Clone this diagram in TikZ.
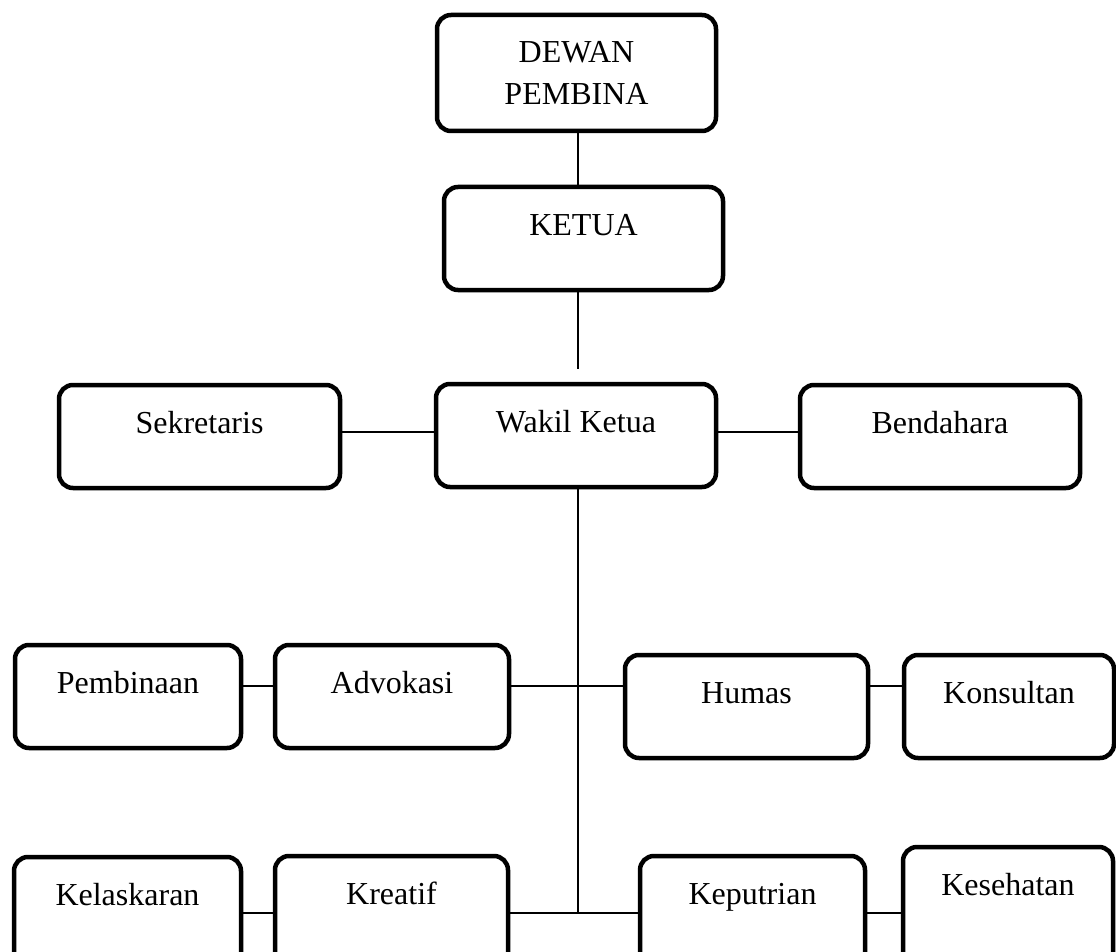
\documentclass[tikz,border=0pt]{standalone}
\usepackage{fontspec}
\setmainfont{Liberation Serif}
\usetikzlibrary{positioning,calc}
\tikzset{
  box/.style={draw,line width=4.5pt,rounded corners=14pt,inner sep=0pt,align=center,
    font=\fontsize{32}{42}\selectfont},
  unit/.style={box,anchor=base,text height=48pt,text depth=55pt},
  lowunit/.style={unit,text depth=75pt},
  conn/.style={draw,line width=1.3pt}
}
\begin{document}
\begin{tikzpicture}[x=1pt,y=-1pt]
\useasboundingbox (0,0) rectangle (1116,952);
\clip (0,0) rectangle (1116,952);
% top of the chart
\node[box,minimum width=279pt,minimum height=116pt] (dewan) at (576.5,73) {DEWAN\\PEMBINA};
\node[unit,minimum width=279pt] (ketua) at (583.5,235) {KETUA};
\node[unit,minimum width=280pt] (wakil) at (576,432) {Wakil Ketua};
\node[unit,minimum width=281pt] (sekretaris) at (199.5,433) {Sekretaris};
\node[unit,minimum width=280pt] (bendahara) at (940,433) {Bendahara};
% divisions
\node[unit,minimum width=226pt] (pembinaan) at (128,693) {Pembinaan};
\node[unit,minimum width=234pt] (advokasi) at (392,693) {Advokasi};
\node[unit,minimum width=243pt] (humas) at (746.5,703) {Humas};
\node[unit,minimum width=210pt] (konsultan) at (1009,703) {Konsultan};
\node[lowunit,minimum width=227pt] (kelaskaran) at (127.5,905) {Kelaskaran};
\node[lowunit,minimum width=233pt] (kreatif) at (391.5,904) {Kreatif};
\node[lowunit,minimum width=225pt] (keputrian) at (752.5,904) {Keputrian};
\node[lowunit,minimum width=210pt] (kesehatan) at (1008,895) {Kesehatan};
% lines
\coordinate (spine) at (578,0);
\coordinate (rowA) at (0,432);
\coordinate (rowB) at (0,686);
\coordinate (rowC) at (0,913);
\draw[conn] (dewan.south -| spine) -- (ketua.north -| spine);
\draw[conn] (ketua.south -| spine) -- ([yshift=13pt]wakil.north -| spine);
\draw[conn] (sekretaris.east |- rowA) -- (wakil.west |- rowA);
\draw[conn] (wakil.east |- rowA) -- (bendahara.west |- rowA);
\draw[conn] (wakil.south -| spine) -- (spine |- rowC);
\draw[conn] (pembinaan.east |- rowB) -- (advokasi.west |- rowB);
\draw[conn] (advokasi.east |- rowB) -- (humas.west |- rowB);
\draw[conn] (humas.east |- rowB) -- (konsultan.west |- rowB);
\draw[conn] (kelaskaran.east |- rowC) -- (kreatif.west |- rowC);
\draw[conn] (kreatif.east |- rowC) -- (keputrian.west |- rowC);
\draw[conn] (keputrian.east |- rowC) -- (kesehatan.west |- rowC);
\end{tikzpicture}
\end{document}
